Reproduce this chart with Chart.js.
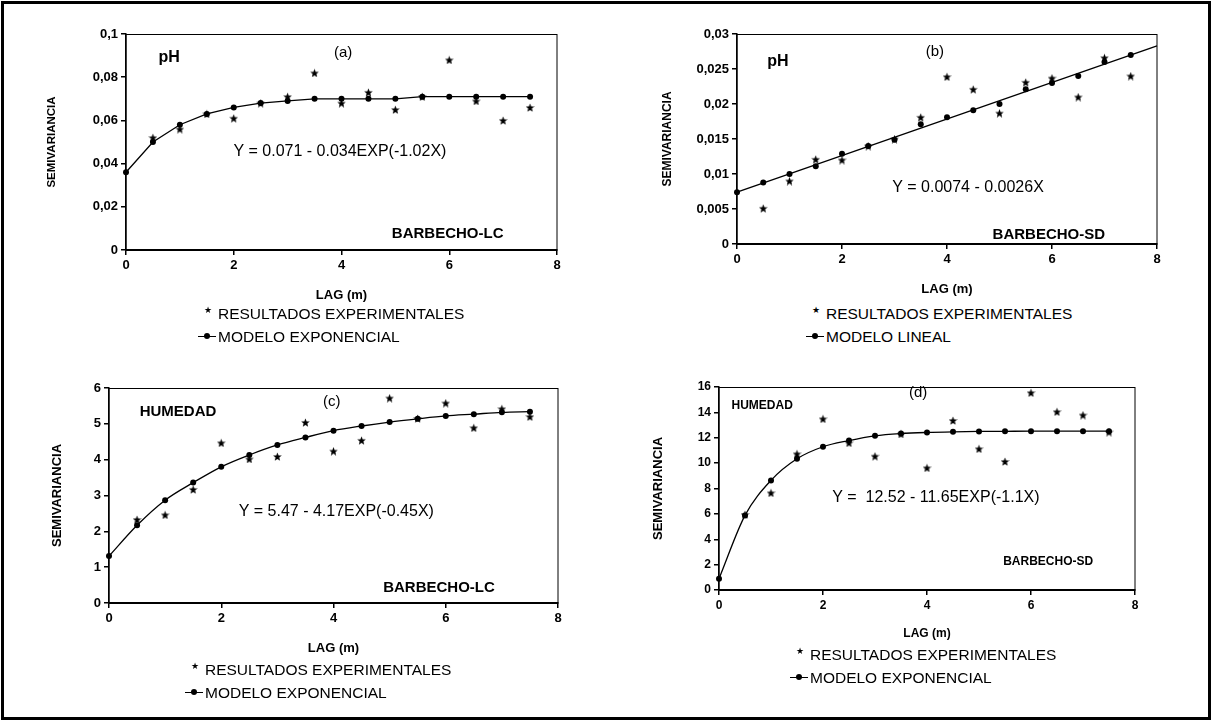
<!DOCTYPE html>
<html>
<head>
<meta charset="utf-8">
<script src="https://cdn.jsdelivr.net/npm/chart.js@4.4.0/dist/chart.umd.min.js"></script>
<style>
  body { margin: 0; background: #fff; width: 1212px; height: 723px; position: relative; overflow: hidden;
         font-family: "Liberation Sans", Arial, sans-serif; }
  #frame { position: absolute; left: 1px; top: 1px; width: 1204px; height: 713px; border: 3px solid #000; }
  canvas { position: absolute; }
  .leg { position: absolute; font-size: 15.5px; color: #000; white-space: nowrap; line-height: 23px; }
  .leg .mk { display: inline-block; width: 20px; height: 10px; position: relative; vertical-align: middle; margin-top: -3px; }
  .leg .st::after { content: "\2605"; position: absolute; left: 6px; top: -3px; font-size: 9px; line-height: 10px; }
  .leg .ln::before { content: ""; position: absolute; left: 0; right: 2px; top: 5px; border-top: 1px solid #000; }
  .leg .ln::after { content: ""; position: absolute; left: 6px; top: 2px; width: 6px; height: 6px; border-radius: 50%; background: #000; }
</style>
</head>
<body>
<div id="frame"></div>
<canvas id="chartA" width="560" height="286" style="left:20px;top:20px"></canvas>
<canvas id="chartB" width="560" height="280" style="left:620px;top:20px"></canvas>
<canvas id="chartC" width="560" height="284" style="left:20px;top:375px"></canvas>
<canvas id="chartD" width="540" height="270" style="left:620px;top:375px"></canvas>

<div class="leg" style="left:198px;top:302px">
  <div><span class="mk st"></span>RESULTADOS EXPERIMENTALES</div>
  <div><span class="mk ln"></span>MODELO EXPONENCIAL</div>
</div>
<div class="leg" style="left:806px;top:302px">
  <div><span class="mk st"></span>RESULTADOS EXPERIMENTALES</div>
  <div><span class="mk ln"></span>MODELO LINEAL</div>
</div>
<div class="leg" style="left:185px;top:658px">
  <div><span class="mk st"></span>RESULTADOS EXPERIMENTALES</div>
  <div><span class="mk ln"></span>MODELO EXPONENCIAL</div>
</div>
<div class="leg" style="left:790px;top:643px">
  <div><span class="mk st"></span>RESULTADOS EXPERIMENTALES</div>
  <div><span class="mk ln"></span>MODELO EXPONENCIAL</div>
</div>

<script>
// lag distances (m)
const lagModel = [0, 0.5, 1, 1.5, 2, 2.5, 3, 3.5, 4, 4.5, 5, 5.5, 6, 6.5, 7, 7.5];
const lagExp = [0.5, 1, 1.5, 2, 2.5, 3, 3.5, 4, 4.5, 5, 5.5, 6, 6.5, 7, 7.5];

// (a) pH, BARBECHO-LC
const phLcExp = [0.052, 0.056, 0.063, 0.061, 0.068, 0.071, 0.082, 0.068, 0.073, 0.065, 0.071, 0.088, 0.069, 0.060, 0.066];
const phLcModel = [0.036, 0.050, 0.058, 0.063, 0.066, 0.068, 0.069, 0.070, 0.070, 0.070, 0.070, 0.071, 0.071, 0.071, 0.071, 0.071];

// (b) pH, BARBECHO-SD
const phSdExp = [0.0051, 0.0090, 0.0121, 0.0120, 0.0140, 0.0150, 0.0181, 0.0239, 0.0221, 0.0187, 0.0231, 0.0237, 0.0210, 0.0266, 0.0240];
const phSdModel = [0.0074, 0.0088, 0.0100, 0.0111, 0.0129, 0.0140, 0.0149, 0.0171, 0.0181, 0.0191, 0.0200, 0.0221, 0.0230, 0.0240, 0.0260, 0.0270];
const phSdLineX = [0, 8];
const phSdLineY = [0.0074, 0.0283];

// (c) HUMEDAD, BARBECHO-LC
const humLcExp = [2.33, 2.46, 3.17, 4.47, 4.02, 4.09, 5.04, 4.24, 4.54, 5.72, 5.15, 5.58, 4.89, 5.42, 5.20];
const humLcModel = [1.31, 2.17, 2.87, 3.36, 3.80, 4.13, 4.41, 4.62, 4.81, 4.94, 5.05, 5.14, 5.22, 5.27, 5.32, 5.34];

// (d) HUMEDAD, BARBECHO-SD
const humSdExp = [5.95, 7.66, 10.73, 13.49, 11.60, 10.55, 12.30, 9.63, 13.36, 11.13, 10.13, 15.55, 14.05, 13.79, 12.45];
const humSdModel = [0.89, 5.88, 8.64, 10.34, 11.29, 11.78, 12.15, 12.33, 12.42, 12.47, 12.50, 12.51, 12.52, 12.52, 12.52, 12.52];

// tick values and labels
const xTicks = [0, 2, 4, 6, 8];
const xTickLabels = ['0', '2', '4', '6', '8'];
const aTicks = [0, 0.02, 0.04, 0.06, 0.08, 0.1];
const aTickLabels = ['0', '0,02', '0,04', '0,06', '0,08', '0,1'];
const bTicks = [0, 0.005, 0.01, 0.015, 0.02, 0.025, 0.03];
const bTickLabels = ['0', '0,005', '0,01', '0,015', '0,02', '0,025', '0,03'];
const cTicks = [0, 1, 2, 3, 4, 5, 6];
const cTickLabels = ['0', '1', '2', '3', '4', '5', '6'];
const dTicks = [0, 2, 4, 6, 8, 10, 12, 14, 16];
const dTickLabels = ['0', '2', '4', '6', '8', '10', '12', '14', '16'];

const FONT = '"Liberation Sans", Arial, sans-serif';

// small filled star used for the experimental points
function makeStar(size) {
  const c = document.createElement('canvas');
  c.width = c.height = size;
  const g = c.getContext('2d');
  g.fillStyle = '#000';
  g.beginPath();
  for (let i = 0; i < 10; i++) {
    const r = i % 2 ? size * 0.22 : size * 0.5;
    const a = -Math.PI / 2 + i * Math.PI / 5;
    g.lineTo(size / 2 + r * Math.cos(a), size / 2 + 0.5 + r * Math.sin(a));
  }
  g.closePath();
  g.fill();
  return c;
}
const star = makeStar(9);

const pts = (xs, ys) => xs.map((x, i) => ({ x, y: ys[i] }));

// frame around plot area
const boxPlugin = {
  id: 'box',
  afterDraw(chart) {
    const { ctx, chartArea: a } = chart;
    ctx.save();
    ctx.strokeStyle = '#000';
    ctx.lineWidth = 1;
    ctx.strokeRect(a.left, a.top + 0.5, a.right - a.left, a.bottom - a.top);
    ctx.restore();
  }
};

// text labels placed in data coordinates
const notesPlugin = {
  id: 'notes',
  afterDatasetsDraw(chart, args, opts) {
    const { ctx, scales } = chart;
    ctx.save();
    ctx.fillStyle = '#000';
    ctx.textAlign = 'center';
    ctx.textBaseline = 'middle';
    (opts.items || []).forEach(n => {
      ctx.font = n.font + ' ' + FONT;
      ctx.fillText(n.text, scales.x.getPixelForValue(n.x), scales.y.getPixelForValue(n.y));
    });
    ctx.restore();
  }
};

function makePanel(id, p) {
  const tickFont = { family: FONT, size: p.tickSize, weight: 'bold' };
  const datasets = [
    {
      label: 'RESULTADOS EXPERIMENTALES',
      type: 'scatter',
      data: pts(lagExp, p.exp),
      pointStyle: star,
      showLine: false,
      clip: false,
      order: 1
    },
    {
      label: p.modelName,
      type: 'line',
      data: pts(lagModel, p.model),
      borderColor: '#000',
      borderWidth: p.lineModel ? 1.3 : 0,
      showLine: !!p.lineModel,
      cubicInterpolationMode: p.smooth ? 'monotone' : 'default',
      pointRadius: 3,
      pointBackgroundColor: '#000',
      pointBorderColor: '#000',
      pointBorderWidth: 0,
      clip: false,
      order: 2
    }
  ];
  if (p.extraLine) {
    datasets.push({
      type: 'line',
      data: p.extraLine,
      borderColor: '#000',
      borderWidth: 1.3,
      pointRadius: 0,
      clip: false
    });
  }
  return new Chart(document.getElementById(id), {
    type: 'scatter',
    data: { datasets },
    options: {
      responsive: false,
      animation: false,
      devicePixelRatio: 1,
      layout: { padding: p.pad },
      plugins: {
        legend: { display: false },
        tooltip: { enabled: false },
        notes: { items: p.notes }
      },
      scales: {
        x: {
          type: 'linear', min: 0, max: 8,
          afterBuildTicks: s => { s.ticks = xTicks.map(v => ({ value: v })); },
          afterFit: s => { s.height = p.xh; },
          border: { display: true, color: '#000', width: 1.5 },
          grid: { drawOnChartArea: false, drawTicks: true, tickLength: 5, color: '#000', lineWidth: 1.5 },
          ticks: { color: '#000', font: tickFont, padding: 3, maxRotation: 0, autoSkip: false,
                   callback: (v, i) => xTickLabels[i] },
          title: { display: true, text: 'LAG (m)', color: '#000',
                   font: { family: FONT, size: p.tickSize, weight: 'bold' }, padding: { top: 0, bottom: p.xTitlePad } }
        },
        y: {
          type: 'linear', min: p.yTicks[0], max: p.yTicks[p.yTicks.length - 1],
          afterBuildTicks: s => { s.ticks = p.yTicks.map(v => ({ value: v })); },
          afterFit: s => { s.width = p.yw; },
          border: { display: true, color: '#000', width: 1.5 },
          grid: { drawOnChartArea: false, drawTicks: true, tickLength: 5, color: '#000', lineWidth: 1.5 },
          ticks: { color: '#000', font: tickFont, padding: 3, autoSkip: false,
                   callback: (v, i) => p.yTickLabels[i] },
          title: { display: true, text: 'SEMIVARIANCIA', color: '#000',
                   font: { family: FONT, size: p.yTitleSize, weight: 'bold' }, padding: { top: p.yTitlePad, bottom: 0 } }
        }
      }
    },
    plugins: [boxPlugin, notesPlugin]
  });
}

makePanel('chartA', {
  exp: phLcExp, model: phLcModel, modelName: 'MODELO EXPONENCIAL', lineModel: true,
  yTicks: aTicks, yTickLabels: aTickLabels,
  pad: { top: 14, right: 23, bottom: 0, left: 0 }, yw: 106, xh: 56,
  tickSize: 13, yTitleSize: 11.5, yTitlePad: 25, xTitlePad: 3,
  notes: [
    { text: 'pH', x: 0.8, y: 0.089, font: 'bold 16px' },
    { text: '(a)', x: 4.03, y: 0.0915, font: '15px' },
    { text: 'Y = 0.071 - 0.034EXP(-1.02X)', x: 3.97, y: 0.0454, font: '16px' },
    { text: 'BARBECHO-LC', x: 5.97, y: 0.0074, font: 'bold 15px' }
  ]
});

makePanel('chartB', {
  exp: phSdExp, model: phSdModel, modelName: 'MODELO LINEAL', lineModel: false,
  extraLine: pts(phSdLineX, phSdLineY),
  yTicks: bTicks, yTickLabels: bTickLabels,
  pad: { top: 14, right: 23, bottom: 0, left: 0 }, yw: 117, xh: 56,
  tickSize: 13, yTitleSize: 12, yTitlePad: 40, xTitlePad: 3,
  notes: [
    { text: 'pH', x: 0.78, y: 0.026, font: 'bold 16px' },
    { text: '(b)', x: 3.77, y: 0.0274, font: '15px' },
    { text: 'Y = 0.0074 - 0.0026X', x: 4.4, y: 0.008, font: '16px' },
    { text: 'BARBECHO-SD', x: 5.94, y: 0.0013, font: 'bold 15px' }
  ]
});

makePanel('chartC', {
  exp: humLcExp, model: humLcModel, modelName: 'MODELO EXPONENCIAL', lineModel: true, smooth: true,
  yTicks: cTicks, yTickLabels: cTickLabels,
  pad: { top: 13, right: 22, bottom: 0, left: 0 }, yw: 89, xh: 56,
  tickSize: 13, yTitleSize: 13, yTitlePad: 30, xTitlePad: 3,
  notes: [
    { text: 'HUMEDAD', x: 1.23, y: 5.33, font: 'bold 15px' },
    { text: '(c)', x: 3.97, y: 5.6, font: '15px' },
    { text: 'Y = 5.47 - 4.17EXP(-0.45X)', x: 4.05, y: 2.54, font: '16px' },
    { text: 'BARBECHO-LC', x: 5.88, y: 0.42, font: 'bold 15px' }
  ]
});

makePanel('chartD', {
  exp: humSdExp, model: humSdModel, modelName: 'MODELO EXPONENCIAL', lineModel: true, smooth: true,
  yTicks: dTicks, yTickLabels: dTickLabels,
  pad: { top: 12, right: 25, bottom: 0, left: 0 }, yw: 99, xh: 55,
  tickSize: 12, yTitleSize: 13, yTitlePad: 31, xTitlePad: 4,
  notes: [
    { text: 'HUMEDAD', x: 0.83, y: 14.5, font: 'bold 12px' },
    { text: '(d)', x: 3.83, y: 15.5, font: '15px' },
    { text: 'Y =  12.52 - 11.65EXP(-1.1X)', x: 4.17, y: 7.3, font: '16px' },
    { text: 'BARBECHO-SD', x: 6.33, y: 2.2, font: 'bold 12px' }
  ]
});
</script>
</body>
</html>
